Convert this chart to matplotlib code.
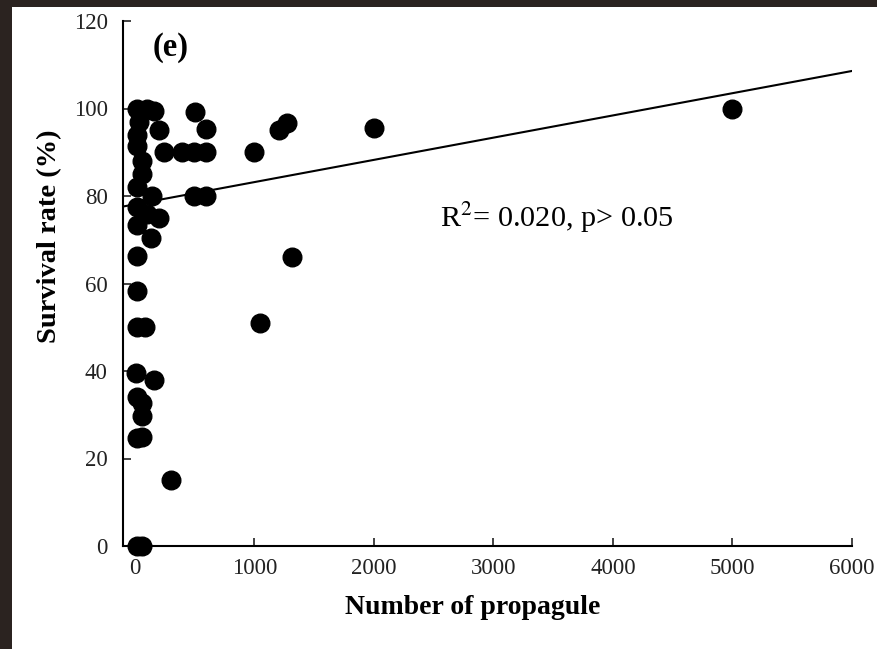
import numpy as np
import matplotlib
matplotlib.use("Agg")
import matplotlib.pyplot as plt
from matplotlib.patches import Rectangle

# propagule number vs survival rate (%)
propagules = [5000, 2000, 1209, 1276, 1000, 1050, 1310, 300, 506, 598,
              247, 397, 498, 598, 146, 498, 598, 205, 13, 105,
              163, 30, 20, 15, 63, 55, 13, 21, 105, 205,
              13, 138, 21, 21, 13, 80, 5, 163, 13, 63,
              55, 13, 55, 13, 63]
survival = [100, 95.5, 95, 96.7, 90, 51, 66, 15, 99.3, 95.3,
            90, 90, 90, 90, 80, 80, 80, 95, 100, 100,
            99.5, 97, 94, 91.5, 88, 85, 82, 77.4, 76, 75,
            73.3, 70.3, 66.4, 58.4, 50, 50, 39.6, 38, 34, 32.8,
            29.8, 24.7, 25, 0, 0]

# fitted line as printed
fit_slope = 0.00508
fit_intercept = 78.1
stats_text = "R$^2$= 0.020, p> 0.05"
panel_tag = "(e)"

xticks = [0, 1000, 2000, 3000, 4000, 5000, 6000]
yticks = [0, 20, 40, 60, 80, 100, 120]

plt.rcParams["font.family"] = ["Liberation Serif", "DejaVu Serif"]
plt.rcParams["mathtext.fontset"] = "stix"

fig = plt.figure(figsize=(8.77, 6.49), dpi=100)
fig.patch.set_facecolor("#2b2320")
# white page inside the dark photo border
page = Rectangle((12 / 877, 0), 1 - 12 / 877, 1 - 7 / 649,
                 transform=fig.transFigure, fc="white", ec="none", zorder=-10)
fig.patches.append(page)

ax = fig.add_axes([123 / 877, 1 - 546 / 649, 729 / 877, 525 / 649])
ax.set_facecolor("none")
ax.set_zorder(5)

ax.scatter(propagules, survival, s=180, color="black", zorder=3, clip_on=False)

xs = np.array([-100, 6000])
ax.plot(xs, fit_intercept + fit_slope * xs, color="black", lw=1.5, zorder=2)

ax.set_xlim(-100, 6000)
ax.set_ylim(0, 120)
ax.set_xticks(xticks)
ax.set_yticks(yticks)

for side in ["top", "right"]:
    ax.spines[side].set_visible(False)
for side in ["left", "bottom"]:
    ax.spines[side].set_linewidth(1.5)

ax.tick_params(direction="in", length=6, width=1.2, labelsize=16.5, colors="#222222")
ax.tick_params(axis="x", pad=9)
ax.tick_params(axis="y", pad=11)

ax.set_xlabel("Number of propagule", fontsize=20, fontweight="bold")
ax.xaxis.set_label_coords((473 - 123) / 729, -0.093)
ax.set_ylabel("Survival rate (%)", fontsize=20.5, fontweight="bold")
ax.yaxis.set_label_coords(-0.083, 0.59)

ax.text(0.041, 0.95, panel_tag, transform=ax.transAxes, fontsize=23.5,
        fontweight="bold", ha="left", va="center")
ax.text(0.435, 0.625, stats_text, transform=ax.transAxes, fontsize=21.8,
        ha="left", va="center")

fig.savefig("out.png", dpi=100)
